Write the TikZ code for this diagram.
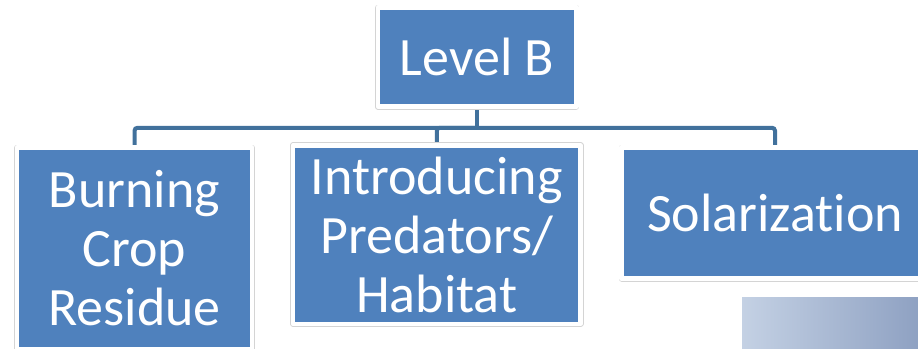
\documentclass[tikz,border=0pt]{standalone}
\usepackage{fontspec}
\setmainfont[Ligatures=NoCommon]{Carlito}
\usetikzlibrary{backgrounds}
\definecolor{boxblue}{HTML}{4F81BD}
\definecolor{linkblue}{HTML}{41719C}
\definecolor{framegray}{HTML}{D4D4D4}
\definecolor{shadeleft}{HTML}{C4D1E4}
\definecolor{shaderight}{HTML}{8B9EC0}
\begin{document}
\begin{tikzpicture}[x=1pt, y=-1pt, line join=round, line cap=round,
	level/.style={fill=boxblue, draw=white, line width=4.5pt, preaction={draw=framegray, line width=6pt},
		text=white, align=center, inner sep=0pt, font=\fontsize{54}{59}\selectfont},
	link/.style={draw=linkblue, line width=4pt, rounded corners=3pt}]
	\useasboundingbox (0,0) rectangle (918,348);
	\node[level, minimum width=198.5pt, minimum height=99pt] (top) at (477,57) {Level B};
	\node[level, minimum width=235pt, minimum height=202pt] (burn) at (134.5,248.5) {Burning\\Crop\\Residue};
	\node[level, minimum width=287.5pt, minimum height=178.5pt] (pred) at (436.75,234.5) {Introducing\\Predators/\\Habitat};
	\node[level, minimum width=307pt, minimum height=131pt] (solar) at (775,213) {Solarization};
	\begin{scope}[on background layer]
		\draw[link] (top.south) -- ++(0,19) coordinate (bus);
		\foreach \c in {burn,pred,solar} \draw[link] (bus) -| (\c.north);
	\end{scope}
	\shade[left color=shadeleft, right color=shaderight] (742,297) rectangle (930,350);
\end{tikzpicture}
\end{document}
